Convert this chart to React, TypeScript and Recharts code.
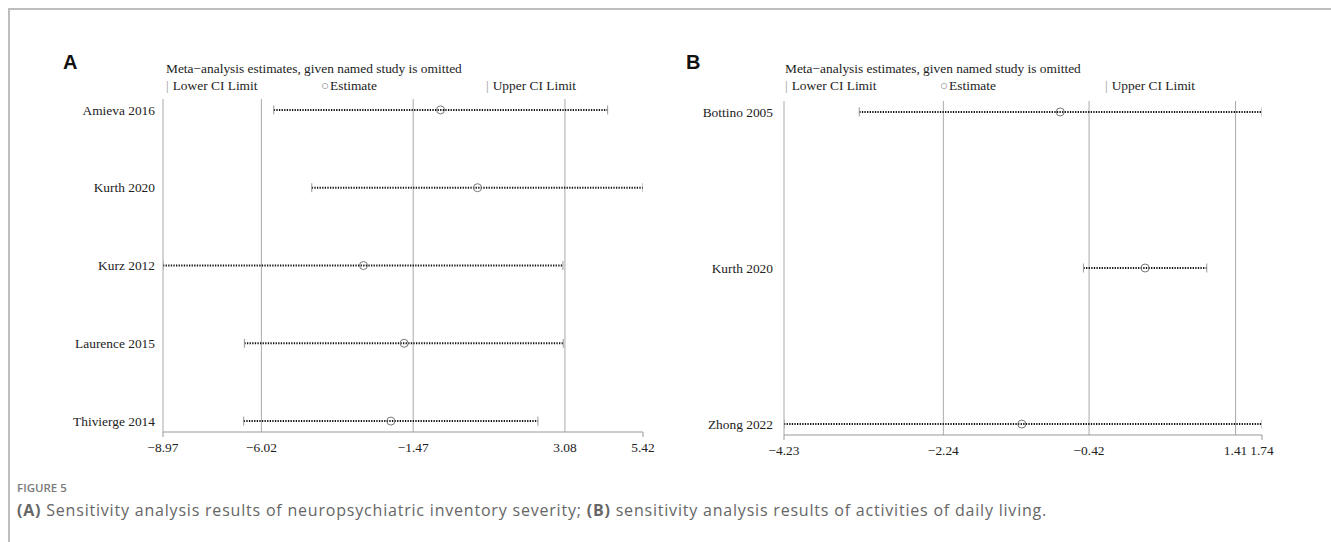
import React from "react";
import {
  ReferenceLine,
  Scatter,
  ScatterChart,
  XAxis,
  YAxis,
} from "recharts";

// Panel A: neuropsychiatric inventory severity
const studiesA = [
  "Amieva 2016",
  "Kurth 2020",
  "Kurz 2012",
  "Laurence 2015",
  "Thivierge 2014",
];
const lowerA = [-5.65, -4.51, -8.97, -6.53, -6.55];
const estimateA = [-0.65, 0.46, -2.96, -1.74, -2.14];
const upperA = [4.36, 5.42, 3.02, 3.03, 2.27];
const ticksA = [-8.97, -6.02, -1.47, 3.08, 5.42];

// Panel B: activities of daily living
const studiesB = ["Bottino 2005", "Kurth 2020", "Zhong 2022"];
const lowerB = [-3.29, -0.49, -4.23];
const estimateB = [-0.78, 0.28, -1.26];
const upperB = [1.74, 1.05, 1.74];
const ticksB = [-4.23, -2.24, -0.42, 1.41, 1.74];

const SERIF = '"Liberation Serif", "Times New Roman", serif';
const SANS = '"Liberation Sans", Arial, sans-serif';
const CAPTION_FONT = '"Open Sans", "Noto Sans", sans-serif';

const fmt = (v: number) =>
  v < 0 ? `\u2212${Math.abs(v).toFixed(2)}` : v.toFixed(2);

function XTick(props: any) {
  const { x, y, payload, ends } = props;
  const v = payload.value;
  const isEnd = v === ends[0] || v === ends[1];
  return (
    <g>
      {isEnd && <line x1={x} y1={y} x2={x} y2={y + 5} stroke="#999" />}
      <text
        x={x}
        y={y + 15}
        dy="0.35em"
        textAnchor="middle"
        fill="#222"
        fontSize={13.4}
        fontFamily={SERIF}
      >
        {fmt(v)}
      </text>
    </g>
  );
}

const Cap = (props: any) => (
  <line
    x1={props.cx}
    x2={props.cx}
    y1={props.cy - 4.5}
    y2={props.cy + 4.5}
    stroke="#999"
    strokeWidth={1}
  />
);

const EstimateDot = (props: any) => (
  <circle cx={props.cx} cy={props.cy} r={4} fill="none" stroke="#777" strokeWidth={1} />
);

interface PanelProps {
  studies: string[];
  lower: number[];
  estimate: number[];
  upper: number[];
  ticks: number[];
  width: number;
  height: number;
  margin: { top: number; right: number; bottom: number; left: number };
  yAxisWidth: number;
  labelGap: number;
  yPad: number;
}

function ForestPanel({
  studies,
  lower,
  estimate,
  upper,
  ticks,
  width,
  height,
  margin,
  yAxisWidth,
  labelGap,
  yPad,
}: PanelProps) {
  const ends = [ticks[0], ticks[ticks.length - 1]];
  const estData = estimate.map((e, i) => ({ x: e, y: i }));
  return (
    <ScatterChart width={width} height={height} margin={margin}>
      <XAxis
        type="number"
        dataKey="x"
        domain={ends}
        ticks={ticks}
        interval={0}
        height={30}
        tickSize={0}
        tickMargin={0}
        tickLine={false}
        axisLine={{ stroke: "#999" }}
        tick={(p: any) => <XTick {...p} ends={ends} />}
        allowDataOverflow
      />
      <YAxis
        type="number"
        dataKey="y"
        domain={[-yPad, studies.length - 1 + yPad]}
        ticks={studies.map((_, i) => i)}
        interval={0}
        reversed
        width={yAxisWidth}
        axisLine={false}
        tickLine={false}
        tickSize={0}
        tickMargin={labelGap}
        tickFormatter={(v: number) => studies[v] ?? ""}
        tick={{ fill: "#222", fontSize: 13.4, fontFamily: SERIF }}
        allowDataOverflow
      />
      {ticks.slice(0, -1).map((t) => (
        <ReferenceLine key={t} x={t} stroke="#aaa" strokeWidth={1} />
      ))}
      {studies.map((s, i) => (
        <Scatter
          key={s}
          data={[
            { x: lower[i], y: i },
            { x: upper[i], y: i },
          ]}
          line={{ stroke: "#111", strokeWidth: 2, strokeDasharray: "1.3 1.3" }}
          shape={Cap}
          isAnimationActive={false}
        />
      ))}
      <Scatter data={estData} shape={EstimateDot} isAnimationActive={false} />
    </ScatterChart>
  );
}

function Header({ left, letterLeft, letter }: { left: number; letterLeft: number; letter: string }) {
  const txt: React.CSSProperties = {
    position: "absolute",
    fontFamily: SERIF,
    fontSize: 13.4,
    lineHeight: "16px",
    color: "#222",
    whiteSpace: "nowrap",
  };
  const mark: React.CSSProperties = { color: "#999", marginRight: 4 };
  return (
    <>
      <div
        style={{
          position: "absolute",
          left: letterLeft,
          top: 52,
          fontFamily: SANS,
          fontWeight: 700,
          fontSize: 20,
          lineHeight: "20px",
          color: "#111",
        }}
      >
        {letter}
      </div>
      <div style={{ ...txt, left, top: 61 }}>
        Meta{"\u2212"}analysis estimates, given named study is omitted
      </div>
      <div style={{ ...txt, left, top: 78 }}>
        <span style={mark}>|</span>Lower CI Limit
      </div>
      <div style={{ ...txt, left: left + 155, top: 78 }}>
        <span style={{ ...mark, marginRight: 1, color: "#888" }}>{"\u25CB"}</span>Estimate
      </div>
      <div style={{ ...txt, left: left + 320, top: 78 }}>
        <span style={mark}>|</span>Upper CI Limit
      </div>
    </>
  );
}

export default function App() {
  return (
    <div
      style={{
        position: "absolute",
        left: 0,
        top: 0,
        width: 1331,
        height: 542,
        background: "#fff",
        overflow: "hidden",
      }}
    >
      <div
        style={{
          position: "absolute",
          left: 8,
          top: 8,
          width: 1323,
          height: 534,
          borderTop: "2px solid #bdbdbd",
          borderLeft: "2px solid #bdbdbd",
        }}
      />
      <Header left={166} letterLeft={63} letter="A" />
      <Header left={785} letterLeft={686} letter="B" />
      <div style={{ position: "absolute", left: 0, top: 0 }}>
        <ForestPanel
          studies={studiesA}
          lower={lowerA}
          estimate={estimateA}
          upper={upperA}
          ticks={ticksA}
          width={660}
          height={470}
          margin={{ top: 99, right: 17, bottom: 8, left: 13 }}
          yAxisWidth={150}
          labelGap={8}
          yPad={0.14}
        />
      </div>
      <div style={{ position: "absolute", left: 660, top: 0 }}>
        <ForestPanel
          studies={studiesB}
          lower={lowerB}
          estimate={estimateB}
          upper={upperB}
          ticks={ticksB}
          width={671}
          height={470}
          margin={{ top: 101, right: 69, bottom: 5, left: 14 }}
          yAxisWidth={110}
          labelGap={11}
          yPad={0.07}
        />
      </div>
      <div
        style={{
          position: "absolute",
          left: 17,
          top: 480,
          fontFamily: CAPTION_FONT,
          fontSize: 11.5,
          fontWeight: 600,
          lineHeight: "16px",
          color: "#7a7a7a",
        }}
      >
        FIGURE 5
      </div>
      <div
        style={{
          position: "absolute",
          left: 17,
          top: 499,
          fontFamily: CAPTION_FONT,
          fontSize: 16,
          letterSpacing: 0.8,
          lineHeight: "22px",
          color: "#666",
          whiteSpace: "nowrap",
        }}
      >
        <b>(A)</b> Sensitivity analysis results of neuropsychiatric inventory severity;{" "}
        <b>(B)</b> sensitivity analysis results of activities of daily living.
      </div>
    </div>
  );
}
